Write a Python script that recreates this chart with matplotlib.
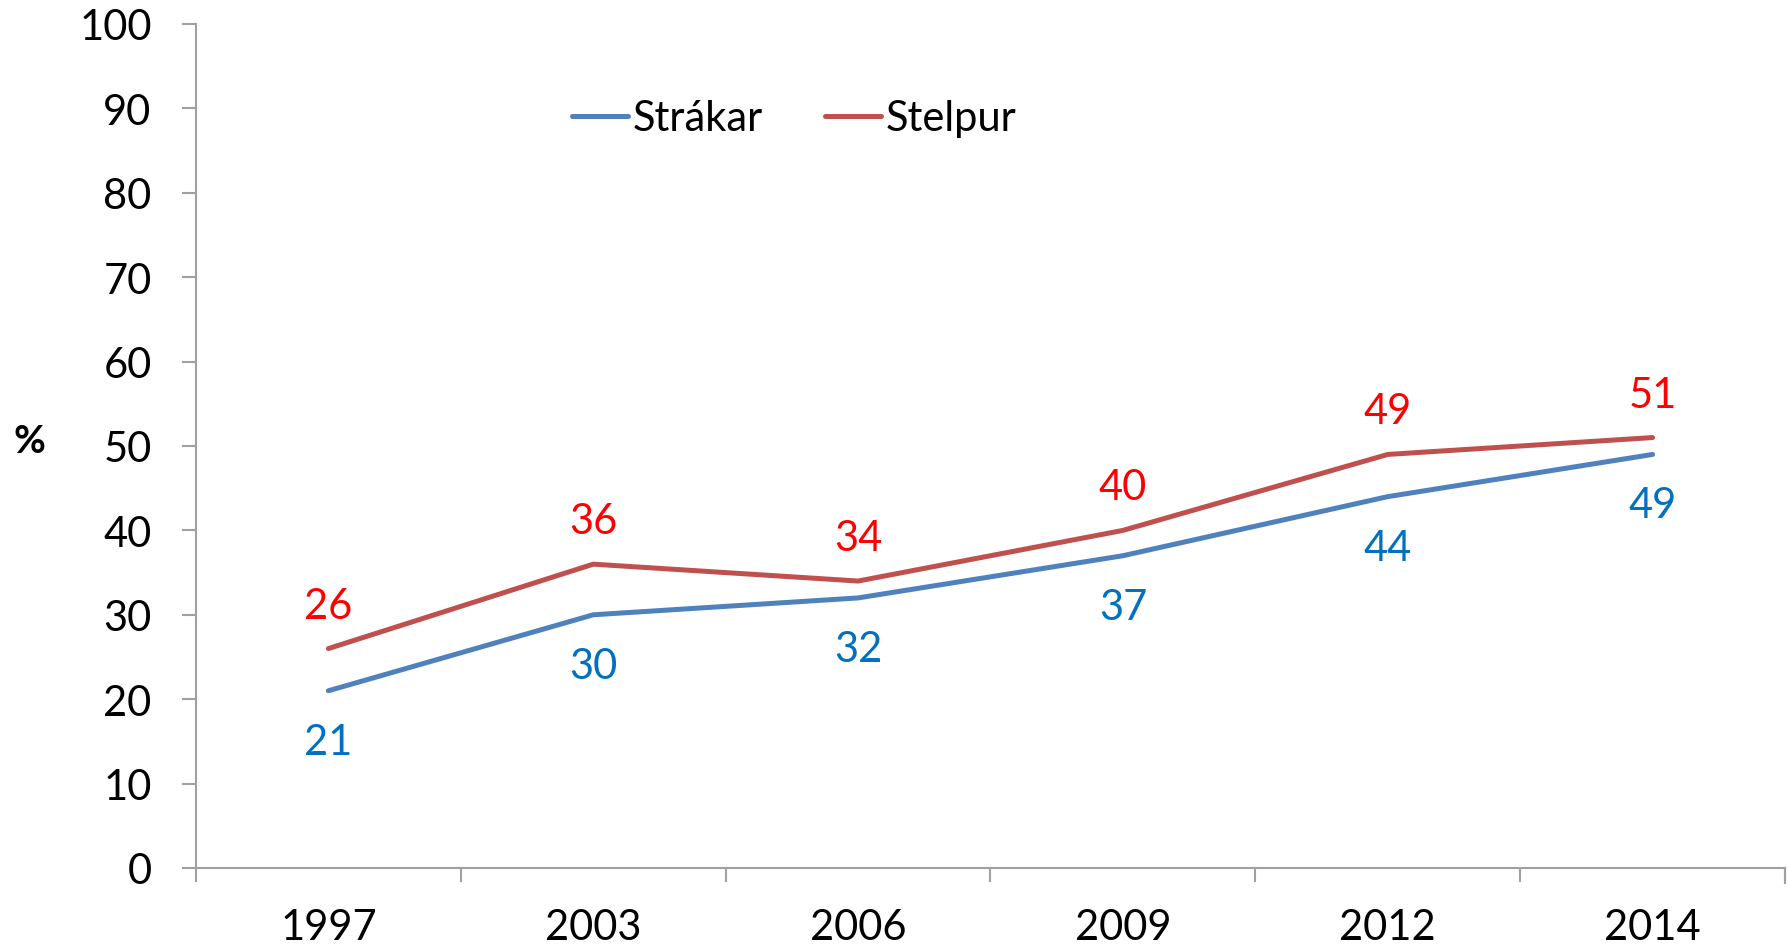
import numpy as np
import matplotlib
matplotlib.use("Agg")
import matplotlib.pyplot as plt

plt.rcParams['font.family'] = ['Lato', 'DejaVu Sans']

years = ["1997", "2003", "2006", "2009", "2012", "2014"]
strakar = [21, 30, 32, 37, 44, 49]
stelpur = [26, 36, 34, 40, 49, 51]

blue_line = "#4F81BD"
red_line = "#C0504D"
blue_txt = "#0070C0"
red_txt = "#FF0000"
grey = "#A0A0A0"

W, H = 1790, 953
fig = plt.figure(figsize=(W / 100, H / 100), dpi=100)
# axes box in pixels: left 196, right 1785, top 25, bottom 869
ax = fig.add_axes([196 / W, 1 - 869 / H, (1785 - 196) / W, (869 - 25) / H])

x = np.arange(len(years))
ax.plot(x, strakar, color=blue_line, lw=3.6, solid_capstyle="round", label="Strákar")
ax.plot(x, stelpur, color=red_line, lw=3.6, solid_capstyle="round", label="Stelpur")

for xi, v in zip(x, stelpur):
    ax.annotate(str(v), (xi, v), xytext=(0, 43), textcoords="offset pixels",
                ha="center", va="center", color=red_txt, fontsize=30)
for xi, v in zip(x, strakar):
    ax.annotate(str(v), (xi, v), xytext=(0, -51), textcoords="offset pixels",
                ha="center", va="center", color=blue_txt, fontsize=30)

ax.set_xlim(-0.5, len(years) - 0.5)
ax.set_ylim(0, 100)
ax.set_yticks(range(0, 101, 10))
ax.set_xticks(x)
ax.set_xticklabels(years)
ax.set_xticks(np.arange(-0.5, len(years)), minor=True)

ax.spines["top"].set_visible(False)
ax.spines["right"].set_visible(False)
for s in ["left", "bottom"]:
    ax.spines[s].set_color(grey)
    ax.spines[s].set_linewidth(1.5)

ax.tick_params(axis="y", length=10, width=1.5, color=grey, pad=22, labelsize=30)
ax.tick_params(axis="x", which="major", length=0, pad=29, labelsize=30)
ax.tick_params(axis="x", which="minor", length=10, width=1.5, color=grey)
# right-end tick mark of the category axis
ax.plot([1, 1], [0, -0.018], transform=ax.transAxes, color=grey, lw=1.5, clip_on=False)

fig.text(29 / W, 1 - 442 / H, "%", fontsize=28, fontweight="bold", ha="center", va="center")

ax.legend(loc="upper left", bbox_to_anchor=(0.213, 0.955), ncol=2, frameon=False,
          fontsize=30, handlelength=1.35, handletextpad=0.1, columnspacing=1.5)

fig.savefig("out.png", dpi=100)
